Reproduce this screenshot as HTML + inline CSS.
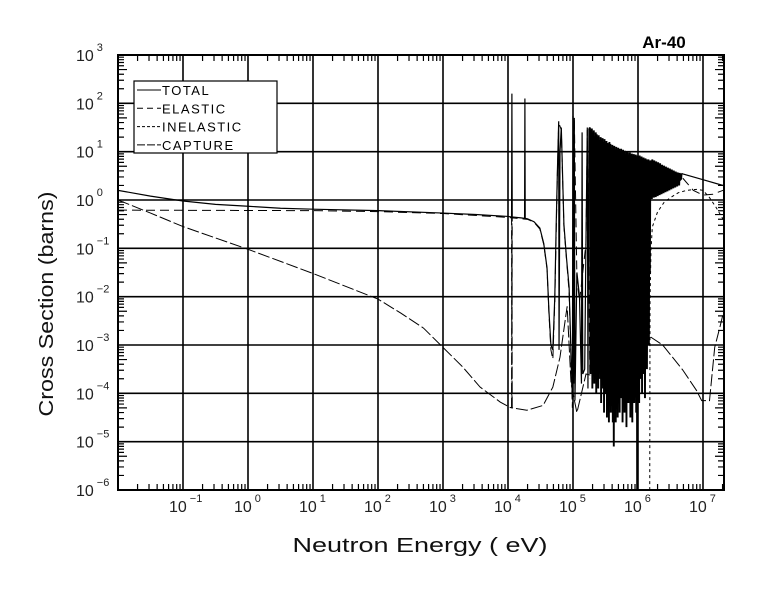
<!DOCTYPE html>
<html><head><meta charset="utf-8"><style>
html,body{margin:0;padding:0;background:#fff;}
svg{display:block;font-family:"Liberation Sans",sans-serif;}
</style></head><body>
<svg id="chart" width="780" height="590" viewBox="0 0 780 590" xmlns="http://www.w3.org/2000/svg">
<rect x="0" y="0" width="780" height="590" fill="#fff"/>
<g id="grid"></g>
<g id="series"></g>
<g id="axes"></g>
<text x="664" y="48" font-size="17" font-weight="bold" text-anchor="middle">Ar-40</text>
<text x="420" y="552" font-size="20" textLength="255" lengthAdjust="spacingAndGlyphs" text-anchor="middle" fill="#111">Neutron Energy ( eV)</text>
<text x="0" y="0" font-size="20" textLength="225" lengthAdjust="spacingAndGlyphs" text-anchor="middle" fill="#111" transform="translate(53,304) rotate(-90)">Cross Section (barns)</text>
<g id="legend">
<rect x="134" y="81" width="143" height="72" fill="#fff" stroke="#000" stroke-width="1.2"/>
</g>
</svg>
<script>
// axis domain (log10)
const xLogMin = -2, xLogMax = 7.31;
const yLogMin = -6, yLogMax = 3;
const xTickExps = [-1,0,1,2,3,4,5,6,7];
const yTickExps = [-6,-5,-4,-3,-2,-1,0,1,2,3];

// TOTAL: [log10 E, log10 sigma]
const totalSmooth = [[-2,0.2],[-1.5,0.08],[-1,-0.02],[-0.5,-0.09],[0,-0.13],[0.5,-0.17],[1,-0.19],[2,-0.22],[3,-0.27],[3.5,-0.3],[4,-0.34],[4.055,-0.35],[4.06,2.2],[4.065,-0.35],[4.2,-0.37],[4.255,-0.38],[4.26,2.1],[4.265,-0.38],[4.3,-0.39],[4.4,-0.45],[4.49,-0.58],[4.55,-0.9],[4.6,-1.4],[4.63,-2.3],[4.66,-3.0],[4.69,-3.1],[4.72,-2.0],[4.74,-0.6],[4.76,0.6],[4.78,1.63],[4.785,-3.1],[4.8,1.0],[4.82,1.5],[4.84,0.5],[4.86,-0.5],[4.9,-1.2],[4.94,-1.8],[4.97,-3.2],[4.99,-4.1],[5.0,1.74],[5.01,-3.8],[5.02,1.7],[5.03,-4.15],[5.06,-1.5],[5.1,-2.0],[5.13,-3.8],[5.14,1.4],[5.15,-3.6],[5.18,-3.5],[5.2,-0.8],[5.22,1.5],[5.23,-3.9],[5.245,1.45]];
const totalResonance = [
[5.245,1.45],[5.260,1.50],[5.2675,-3.6],[5.275,1.45],[5.2825,-3.2],[5.290,1.48],[5.2975,-3.9],[5.305,1.40],[5.3125,-3.3],[5.320,1.44],[5.3275,-3.8],[5.335,1.32],[5.3425,-2.6],[5.350,1.40],[5.3575,-4.0],[5.365,1.36],[5.3725,-3.0],[5.380,1.30],[5.3875,-3.9],[5.395,1.34],[5.4025,-2.2],[5.410,1.24],[5.4175,-3.7],[5.425,1.30],[5.4325,-4.2],[5.440,1.25],[5.4475,-3.4],[5.455,1.28],[5.4625,-3.9],[5.470,1.20],[5.4775,-4.4],[5.485,1.26],[5.4925,-2.5],[5.500,1.15],[5.5075,-4.0],[5.515,1.22],[5.5225,-4.5],[5.530,1.18],[5.5375,-3.4],[5.545,1.15],[5.5525,-4.6],[5.560,1.20],[5.5675,-3.8],[5.575,1.16],[5.5825,-4.4],[5.590,1.08],[5.5975,-2.6],[5.605,1.14],[5.6125,-4.6],[5.620,1.10],[5.6275,-5.1],[5.635,1.12],[5.6425,-4.0],[5.650,1.05],[5.6575,-4.6],[5.665,1.10],[5.6725,-3.3],[5.680,1.04],[5.6875,-4.5],[5.695,1.08],[5.7025,-3.9],[5.710,1.06],[5.7175,-4.4],[5.725,1.02],[5.7325,-4.1],[5.740,1.06],[5.7475,-3.5],[5.755,1.00],[5.7625,-4.6],[5.770,1.04],[5.7775,-3.2],[5.785,0.98],[5.7925,-4.4],[5.800,1.02],[5.8075,-3.8],[5.815,0.96],[5.8225,-4.7],[5.830,1.00],[5.8375,-3.5],[5.845,0.98],[5.8525,-4.2],[5.860,0.94],[5.8675,-3.0],[5.875,0.98],[5.8825,-4.5],[5.890,0.94],[5.8975,-4.0],[5.905,0.96],[5.9125,-4.6],[5.920,0.92],[5.9275,-3.4],[5.935,0.95],[5.9425,-4.2],[5.950,0.92],[5.9575,-3.0],[5.965,0.94],[5.9725,-4.4],[5.980,0.90],[5.9875,-6.5],[5.995,0.92],[6.0025,-3.8],[6.010,0.90],[6.0175,-4.2],[6.025,0.92],[6.0325,-2.9],[6.040,0.88],[6.0475,-3.7],[6.055,0.90],[6.0625,-4.0],[6.070,0.86],[6.0775,-2.6],[6.085,0.88],[6.0925,-3.6],[6.100,0.84],[6.1075,-4.1],[6.115,0.86],[6.1225,-2.8],[6.130,0.84],[6.1375,-3.5],[6.145,0.82],[6.1525,-2.2],[6.160,0.84],[6.1675,-3.0],[6.175,0.80],[6.1825,-1.5],[6.190,0.82],
[6.198,0.08],[6.205,0.82],[6.213,0.02],[6.22,0.84],[6.228,0.10],[6.235,0.80],[6.243,0.05],[6.25,0.82],[6.258,0.12],[6.265,0.78],[6.273,0.06],[6.28,0.80],[6.288,0.14],[6.295,0.76],[6.303,0.08],[6.31,0.78],[6.318,0.15],[6.325,0.74],[6.333,0.10],[6.34,0.76],[6.348,0.16],[6.355,0.72],[6.363,0.12],[6.37,0.73],[6.378,0.18],[6.385,0.70],[6.393,0.14],[6.40,0.71],[6.408,0.20],[6.415,0.68],[6.423,0.16],[6.43,0.69],[6.438,0.22],[6.445,0.66],[6.453,0.18],[6.46,0.67],[6.468,0.24],[6.475,0.64],[6.483,0.20],[6.49,0.65],[6.498,0.26],[6.505,0.62],[6.513,0.22],[6.52,0.63],[6.528,0.28],[6.535,0.60],[6.543,0.24],[6.55,0.61],[6.558,0.30],[6.565,0.59],[6.573,0.26],[6.58,0.59],[6.588,0.32],[6.595,0.57],[6.603,0.28],[6.61,0.57],[6.618,0.34],[6.625,0.56],[6.633,0.30],[6.64,0.56],[6.648,0.40],[6.655,0.55],[6.663,0.42],[6.67,0.55]];
const totalTail = [[6.67,0.55],[6.69,0.54],[7.0,0.42],[7.31,0.3]];

// ELASTIC
const elastic = [[-2,-0.21],[1,-0.22],[2,-0.24],[3,-0.28],[4,-0.36],[4.055,-0.37],[4.06,-4.3],[4.065,-0.37],[4.3,-0.4],[4.4,-0.46],[4.49,-0.6],[4.55,-0.92],[4.6,-1.42],[4.63,-2.35],[4.66,-3.1],[4.69,-3.3],[4.72,-2.1],[4.76,0.55],[4.78,1.6],[4.82,1.45],[4.86,-0.55],[4.94,-1.9],[4.99,-4.3],[5.02,1.68],[5.06,-1.6],[5.1,-2.1],[5.2,-0.9],[5.22,1.45],[5.26,-3.7]];
const elasticTail = [[6.69,0.45],[6.85,0.2],[7.0,0.1],[7.15,0.12],[7.31,0.2]];

// INELASTIC
const inelastic = [[6.18,-6.5],[6.185,-2.07],[6.2,-1.03],[6.22,-0.56],[6.3,-0.25],[6.4,-0.05],[6.5,0.05],[6.62,0.15],[6.75,0.2],[6.9,0.22],[7.0,0.2],[7.1,0.05],[7.2,-0.15],[7.31,-0.4]];

// CAPTURE
const capture = [[-2,0.0],[-1.5,-0.27],[-1,-0.55],[0,-1.02],[1,-1.52],[2,-2.05],[2.35,-2.34],[2.7,-2.65],[3.0,-3.05],[3.3,-3.45],[3.57,-3.87],[3.88,-4.18],[4.03,-4.29],[4.055,-4.3],[4.06,-0.48],[4.065,-4.3],[4.29,-4.35],[4.54,-4.25],[4.69,-3.87],[4.8,-3.25],[4.91,-2.2],[4.97,-3.8],[5.06,-4.4],[5.2,-3.6],[5.5,-3.7],[5.8,-3.5],[6.0,-3.2],[6.2,-2.84],[6.38,-3.0],[6.69,-3.52],[6.9,-3.94],[6.98,-4.15],[7.1,-4.15],[7.18,-3.05],[7.26,-2.63],[7.31,-2.35]];

const legendLabels = ["TOTAL","ELASTIC","INELASTIC","CAPTURE"];

const PL = 118, PR = 724, PT = 55, PB = 490;
const NS = "http://www.w3.org/2000/svg";
function X(l){ return PL + (l - xLogMin) * 65; }
function Y(l){ return PT + (yLogMax - l) * (PB - PT) / (yLogMax - yLogMin); }
function mk(tag, attrs, parent){ const e = document.createElementNS(NS, tag); for (const k in attrs) e.setAttribute(k, attrs[k]); parent.appendChild(e); return e; }

const grid = document.getElementById('grid');
const axes = document.getElementById('axes');
const series = document.getElementById('series');

const defs = mk('defs', {}, document.getElementById('chart'));
const cp = mk('clipPath', {id:'plotclip'}, defs);
mk('rect', {x:PL, y:PT, width:PR-PL, height:PB-PT}, cp);
series.setAttribute('clip-path', 'url(#plotclip)');

xTickExps.forEach(function(e){
  const l = mk('line', {x1:X(e), x2:X(e), y1:PT, y2:PB, stroke:'#000', 'stroke-width':1.6}, grid);
  
  
});
yTickExps.forEach(function(e){
  const l = mk('line', {x1:PL, x2:PR, y1:Y(e), y2:Y(e), stroke:'#000', 'stroke-width':1.6}, grid);
  
  
});

let tickPath = '';
for (let d = -2; d <= 7; d++) {
  for (let m = 2; m <= 9; m++) {
    const l = d + Math.log10(m);
    if (l > xLogMax) break;
    const x = X(l);
    tickPath += 'M' + x + ' ' + PB + 'v-6M' + x + ' ' + PT + 'v6';
  }
}
for (let d = -6; d < 3; d++) {
  for (let m = 2; m <= 9; m++) {
    const y = Y(d + Math.log10(m));
    const len = (m === 5) ? 9 : 6;
    tickPath += 'M' + PL + ' ' + y + 'h' + len + 'M' + PR + ' ' + y + 'h-' + len;
  }
}
const tp = mk('path', {d:tickPath, stroke:'#000', 'stroke-width':1.2, fill:'none'}, axes);



const frame = mk('rect', {x:PL, y:PT, width:PR-PL, height:PB-PT, fill:'none', stroke:'#000', 'stroke-width':2}, axes);



xTickExps.forEach(function(e){
  const t = mk('text', {x:X(e) - 14, y:512, 'font-size':16, fill:'#222'}, axes);
  
  
  t.textContent = '10';
  const s = mk('tspan', {dy:-10, dx:3, 'font-size':11}, t);
  s.textContent = String(e).replace('-', '\u2212');
});
yTickExps.forEach(function(e){
  const t = mk('text', {x:76, y:Y(e) + 6, 'font-size':16, fill:'#222'}, axes);
  
  
  t.textContent = '10';
  const s = mk('tspan', {dy:-10, dx:3, 'font-size':11}, t);
  s.textContent = String(e).replace('-', '\u2212');
});

function pathOf(pts){ return pts.map(function(p,i){ return (i ? 'L' : 'M') + X(p[0]).toFixed(2) + ' ' + Y(p[1]).toFixed(2); }).join(''); }

const styles = {
  total: {dash:'', w:1.2},
  totalRes: {dash:'', w:1.9},
  elastic: {dash:'9 5', w:1},
  inelastic: {dash:'3 3', w:1},
  capture: {dash:'12 3', w:1}
};
function drawSeries(pts, st, name){
  const p = mk('path', {d:pathOf(pts), fill:'none', stroke:'#000', 'stroke-width':st.w, 'stroke-dasharray':st.dash, 'stroke-linejoin':'miter'}, series);
  
  
}
drawSeries(capture, styles.capture, 'capture-line');
drawSeries(inelastic, styles.inelastic, 'inelastic-line');
drawSeries(elastic, styles.elastic, 'elastic-line');
drawSeries(elasticTail, styles.elastic, 'elastic-tail-line');
drawSeries(totalSmooth, styles.total, 'total-line');
drawSeries(totalResonance, styles.totalRes, 'total-resonance-line');
drawSeries(totalTail, styles.total, 'total-tail-line');

const legend = document.getElementById('legend');
legendLabels.forEach(function(lbl, i){
  const y = 90 + i * 18.3;
  const g = mk('g', {}, legend);
  
  
  const ln = mk('line', {x1:137, x2:161, y1:y, y2:y, stroke:'#000', 'stroke-width':1, 'stroke-dasharray': i===0 ? '' : (i===1 ? '6 4' : (i===2 ? '3 2' : '8 2'))}, g);
  
  
  const t = mk('text', {x:162, y:y + 5, 'font-size':13, 'letter-spacing':'1.5'}, g);
  
  
  t.textContent = lbl;
});
</script>
</body></html>
